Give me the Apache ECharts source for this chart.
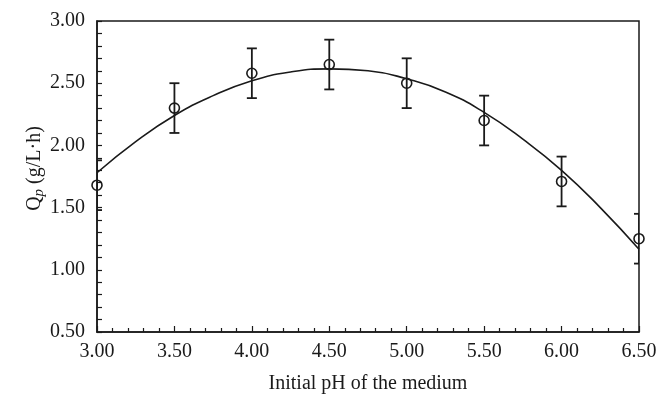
<!DOCTYPE html>
<html>
<head>
<meta charset="utf-8">
<script src="https://cdn.jsdelivr.net/npm/echarts@6/dist/echarts.min.js"></script>
<style>
  html, body { margin: 0; padding: 0; background: #fff; }
  #chart { width: 670px; height: 409px; }
</style>
</head>
<body>
<div id="chart"></div>
<script>
// measured points
const phValues = [3.0, 3.5, 4.0, 4.5, 5.0, 5.5, 6.0, 6.5]
const qpValues = [1.68, 2.30, 2.58, 2.65, 2.50, 2.20, 1.71, 1.25]
const qpErrors = [0.2, 0.2, 0.2, 0.2, 0.2, 0.2, 0.2, 0.2]

// fitted curve
const fitPh = [3.0, 3.25, 3.5, 3.75, 4.0, 4.25, 4.5, 4.75, 5.0, 5.25, 5.5, 5.75, 6.0, 6.25, 6.5]
const fitQp = [1.78, 2.03, 2.24, 2.40, 2.52, 2.59, 2.615, 2.60, 2.535, 2.43, 2.265, 2.05, 1.80, 1.50, 1.165]

const xTicks = ['3.00', '3.50', '4.00', '4.50', '5.00', '5.50', '6.00', '6.50']
const yTicks = ['0.50', '1.00', '1.50', '2.00', '2.50', '3.00']

const ink = '#1a1a1a'
const font = '"Liberation Serif", "DejaVu Serif", serif'

const chart = echarts.init(document.getElementById('chart'))

const option = {
  backgroundColor: '#fff',
  animation: false,
  grid: {
    left: 97,
    right: 31,
    top: 21,
    bottom: 77,
    show: true,
    borderColor: ink,
    borderWidth: 1.5
  },
  xAxis: {
    type: 'value',
    min: 3,
    max: 6.5,
    interval: 0.5,
    name: 'Initial pH of the medium',
    nameLocation: 'middle',
    nameGap: 42,
    nameTextStyle: { color: ink, fontFamily: font, fontSize: 20 },
    axisLine: { lineStyle: { color: ink, width: 1.5 } },
    axisTick: { inside: true, length: 6, lineStyle: { color: ink, width: 1.2 } },
    minorTick: { show: true, splitNumber: 5, length: 4, lineStyle: { color: ink, width: 1.2 } },
    splitLine: { show: false },
    axisLabel: {
      color: ink,
      fontFamily: font,
      fontSize: 20,
      margin: 10,
      formatter: (v) => xTicks[Math.round((v - 3) / 0.5)]
    }
  },
  yAxis: {
    type: 'value',
    min: 0.5,
    max: 3,
    interval: 0.5,
    name: '{q|Q}{p|p}{t| (g/L·h)}',
    nameLocation: 'middle',
    nameGap: 50,
    nameMoveOverlap: false,
    nameTextStyle: {
      color: ink,
      fontFamily: font,
      fontSize: 20,
      padding: [0, 0, 0, 16],
      rich: {
        q: { fontFamily: font, fontSize: 20, color: ink },
        p: { fontFamily: font, fontSize: 15, fontStyle: 'italic', color: ink, verticalAlign: 'bottom', padding: [9, 0, 0, 0] },
        t: { fontFamily: font, fontSize: 20, color: ink }
      }
    },
    axisLine: { lineStyle: { color: ink, width: 1.5 } },
    axisTick: { inside: true, length: 5, lineStyle: { color: ink, width: 1.2 } },
    minorTick: { show: true, splitNumber: 5, length: 5, lineStyle: { color: ink, width: 1.2 } },
    splitLine: { show: false },
    axisLabel: {
      color: ink,
      fontFamily: font,
      fontSize: 20,
      margin: 12,
      formatter: (v) => yTicks[Math.round((v - 0.5) / 0.5)]
    }
  },
  series: [
    {
      type: 'line',
      data: fitPh.map((x, i) => [x, fitQp[i]]),
      smooth: 0.5,
      showSymbol: false,
      lineStyle: { color: ink, width: 1.6 },
      z: 2
    },
    {
      type: 'custom',
      clip: true,
      data: phValues.map((x, i) => [x, qpValues[i] - qpErrors[i], qpValues[i] + qpErrors[i]]),
      renderItem: (params, api) => {
        const lo = api.coord([api.value(0), api.value(1)])
        const hi = api.coord([api.value(0), api.value(2)])
        const half = 5
        const style = { stroke: ink, lineWidth: 1.8, fill: null }
        return {
          type: 'group',
          children: [
            { type: 'line', shape: { x1: lo[0], y1: lo[1], x2: hi[0], y2: hi[1] }, style },
            { type: 'line', shape: { x1: hi[0] - half, y1: hi[1], x2: hi[0] + half, y2: hi[1] }, style },
            { type: 'line', shape: { x1: lo[0] - half, y1: lo[1], x2: lo[0] + half, y2: lo[1] }, style }
          ]
        }
      },
      z: 3
    },
    {
      type: 'scatter',
      data: phValues.map((x, i) => [x, qpValues[i]]),
      symbol: 'circle',
      symbolSize: 10,
      itemStyle: { color: 'rgba(255,255,255,0)', borderColor: ink, borderWidth: 1.6, opacity: 1 },
      z: 4
    }
  ]
}

chart.setOption(option)
</script>
</body>
</html>
